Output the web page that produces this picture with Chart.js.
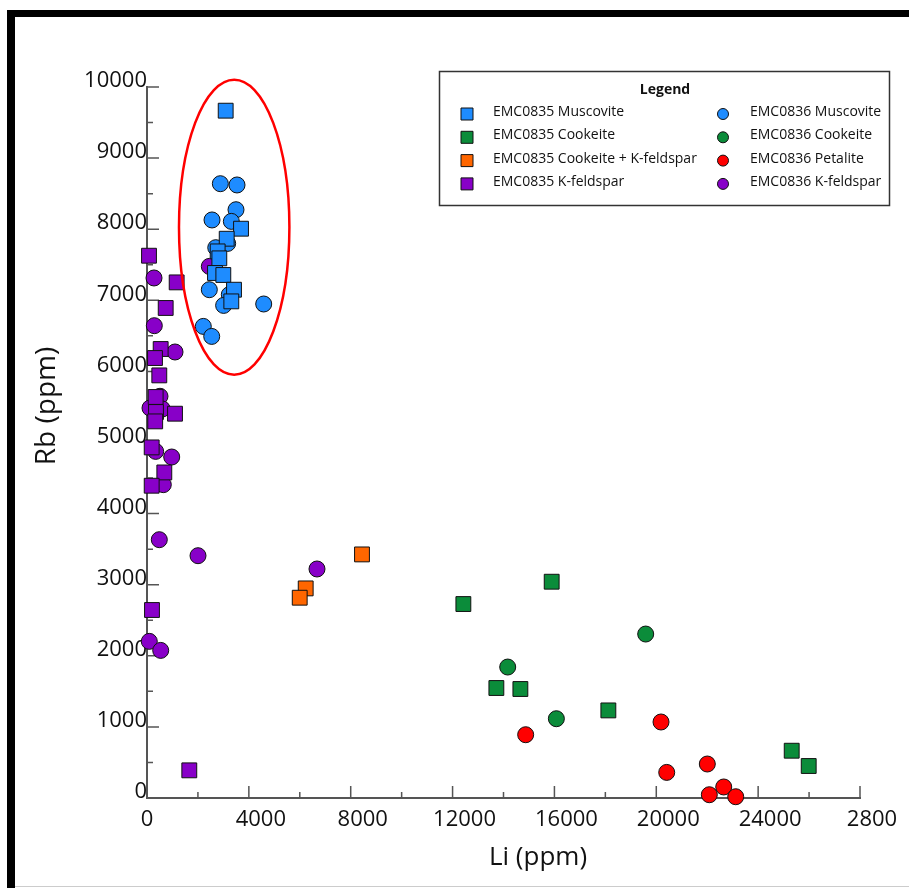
<!DOCTYPE html>
<html lang="en">
<head>
<meta charset="UTF-8">
<title>Rb vs Li</title>
<script src="https://cdn.jsdelivr.net/npm/chart.js"></script>
<style>
  html, body { margin: 0; padding: 0; background: #fff; }
  #wrap { width: 909px; height: 888px; }
</style>
</head>
<body>
<div id="wrap"><canvas id="rbLiChart" width="909" height="888"></canvas></div>
<script>
  // axis ticks
  const xTicks = [0, 4000, 8000, 12000, 16000, 20000, 24000, 28000];
  const xTickLabels = ['0', '4000', '8000', '12000', '16000', '20000', '24000', '2800'];
  const yTicks = [0, 1000, 2000, 3000, 4000, 5000, 6000, 7000, 8000, 9000, 10000];

  // series: [Li, Rb] in ppm
  const seriesNames = [
    'EMC0835 Muscovite', 'EMC0835 Cookeite', 'EMC0835 Cookeite + K-feldspar', 'EMC0835 K-feldspar',
    'EMC0836 Muscovite', 'EMC0836 Cookeite', 'EMC0836 Petalite', 'EMC0836 K-feldspar'
  ];
  const seriesColors = ['#1e8cff', '#0b8c3a', '#ff6600', '#8800c8', '#1e8cff', '#0b8c3a', '#ff0000', '#8800c8'];
  const seriesShapes = ['rect', 'rect', 'rect', 'rect', 'circle', 'circle', 'circle', 'circle'];

  const muscovite0835 = [[3090, 9667], [3692, 8007], [3130, 7866], [2775, 7688], [2840, 7590],
    [2670, 7384], [2997, 7356], [3417, 7149], [3311, 6985]];
  const cookeite0835 = [[12424, 2728], [15892, 3042], [13720, 1547], [14663, 1533], [18118, 1232],
    [25318, 665], [25986, 450]];
  const cookeiteKfs0835 = [[8443, 3426], [6232, 2948], [5997, 2817]];
  const kfeldspar0835 = [[79, 7627], [1165, 7252], [734, 6892], [537, 6315], [314, 6188], [483, 5944],
    [340, 5640], [353, 5429], [1100, 5405], [322, 5297], [184, 4931], [680, 4579], [184, 4392],
    [196, 2644], [1661, 389]];
  const muscovite0836 = [[2880, 8640], [3535, 8622], [3495, 8274], [2553, 8130], [3312, 8110],
    [3168, 7800], [2700, 7740], [2447, 7149], [3232, 7079], [3009, 6928], [4583, 6948],
    [2211, 6633], [2541, 6492]];
  const cookeite0836 = [[19584, 2306], [14165, 1842], [16076, 1115]];
  const petalite0836 = [[14871, 890], [20186, 1069], [20410, 360], [22004, 478], [22083, 46],
    [22648, 155], [23119, 18]];
  const kfeldspar0836 = [[2447, 7477], [275, 7314], [287, 6643], [1100, 6273], [510, 5650], [118, 5485],
    [601, 5471], [340, 4875], [970, 4796], [640, 4407], [483, 3633], [2003, 3408], [6676, 3221],
    [90, 2203], [538, 2076]];

  const seriesData = [muscovite0835, cookeite0835, cookeiteKfs0835, kfeldspar0835,
    muscovite0836, cookeite0836, petalite0836, kfeldspar0836];

  // red ellipse around the muscovite cluster (data units)
  const ellipseCenter = [3424, 8028];
  const ellipseRadii = [2168, 2075];

  const FONT = '"Open Sans", "Noto Sans", sans-serif';
  const TEXT = '#111';
  const AXIS = '#555';

  const datasets = seriesData.map((pts, i) => ({
    label: seriesNames[i],
    data: pts.map(p => ({ x: p[0], y: p[1] })),
    pointStyle: seriesShapes[i],
    pointRadius: seriesShapes[i] === 'rect' ? 10.5 : 8,
    pointHoverRadius: seriesShapes[i] === 'rect' ? 10.5 : 8,
    backgroundColor: seriesColors[i],
    borderColor: '#111',
    borderWidth: 1,
    showLine: false,
    clip: false
  }));

  // white page + black frame like the exported figure
  const framePlugin = {
    id: 'frame',
    beforeDraw(chart) {
      const ctx = chart.ctx;
      ctx.save();
      ctx.fillStyle = '#fff';
      ctx.fillRect(0, 0, chart.width, chart.height);
      ctx.fillStyle = '#000';
      ctx.fillRect(7, 10, chart.width - 7, 7);
      ctx.fillRect(7, 10, 8, chart.height - 10);
      ctx.fillStyle = '#ccc';
      ctx.fillRect(15, chart.height - 2, chart.width - 15, 1);
      ctx.restore();
    }
  };

  // inward major + minor tick marks, and the x tick labels (set right of the tick, except 0)
  const axisTicksPlugin = {
    id: 'axisTicks',
    beforeDatasetsDraw(chart) {
      const { ctx, chartArea: a, scales: { x, y } } = chart;
      ctx.save();
      ctx.strokeStyle = AXIS;
      ctx.lineWidth = 1.5;
      ctx.beginPath();
      xTicks.forEach((v, i) => {
        const px = x.getPixelForValue(v);
        ctx.moveTo(px, a.bottom); ctx.lineTo(px, a.bottom - 12);
        if (i < xTicks.length - 1) {
          const pm = x.getPixelForValue((v + xTicks[i + 1]) / 2);
          ctx.moveTo(pm, a.bottom); ctx.lineTo(pm, a.bottom - 6);
        }
      });
      yTicks.forEach((v, i) => {
        const py = y.getPixelForValue(v);
        ctx.moveTo(a.left, py); ctx.lineTo(a.left + 12, py);
        if (i < yTicks.length - 1) {
          const pm = y.getPixelForValue((v + yTicks[i + 1]) / 2);
          ctx.moveTo(a.left, pm); ctx.lineTo(a.left + 6, pm);
        }
      });
      ctx.stroke();

      ctx.fillStyle = TEXT;
      ctx.font = '22px ' + FONT;
      ctx.textAlign = 'center';
      ctx.textBaseline = 'middle';
      xTicks.forEach((v, i) => {
        const px = x.getPixelForValue(v) + (v === 0 ? 0 : 12);
        ctx.fillText(xTickLabels[i], px, a.bottom + 22);
      });
      ctx.restore();
    }
  };

  const ellipsePlugin = {
    id: 'ellipse',
    afterDatasetsDraw(chart) {
      const { ctx, scales: { x, y } } = chart;
      const cx = x.getPixelForValue(ellipseCenter[0]);
      const cy = y.getPixelForValue(ellipseCenter[1]);
      const rx = x.getPixelForValue(ellipseCenter[0] + ellipseRadii[0]) - cx;
      const ry = cy - y.getPixelForValue(ellipseCenter[1] + ellipseRadii[1]);
      ctx.save();
      ctx.strokeStyle = '#f00';
      ctx.lineWidth = 2.5;
      ctx.beginPath();
      ctx.ellipse(cx, cy, rx, ry, 0, 0, Math.PI * 2);
      ctx.stroke();
      ctx.restore();
    }
  };

  // axis titles (off-centre in the original) and the two-column legend box
  const annotatePlugin = {
    id: 'annotate',
    afterDraw(chart) {
      const ctx = chart.ctx;
      ctx.save();
      ctx.fillStyle = TEXT;
      ctx.textAlign = 'center';
      ctx.textBaseline = 'middle';
      ctx.font = '26px ' + FONT;
      ctx.fillText('Li (ppm)', 538, 858);
      ctx.save();
      ctx.translate(47, 406);
      ctx.rotate(-Math.PI / 2);
      ctx.font = '28px ' + FONT;
      ctx.fillText('Rb (ppm)', 0, 0);
      ctx.restore();

      // legend
      ctx.fillStyle = '#fff';
      ctx.fillRect(439.5, 71.5, 450, 134);
      ctx.strokeStyle = '#333';
      ctx.lineWidth = 1.5;
      ctx.strokeRect(439.5, 71.5, 450, 134);
      ctx.fillStyle = TEXT;
      ctx.font = 'bold 14px ' + FONT;
      ctx.fillText('Legend', 665, 90);
      ctx.font = '14px ' + FONT;
      ctx.textAlign = 'left';
      chart.data.datasets.forEach((ds, i) => {
        const col = i < 4 ? 0 : 1;
        const row = i % 4;
        const mx = col ? 723 : 467;
        const tx = col ? 750 : 493;
        const my = 113 + row * 23.3;
        ctx.fillStyle = ds.backgroundColor;
        ctx.strokeStyle = '#111';
        ctx.lineWidth = 1;
        ctx.beginPath();
        if (ds.pointStyle === 'rect') {
          ctx.rect(mx - 6, my - 5, 12, 12);
        } else {
          ctx.arc(mx, my + 1, 5.5, 0, Math.PI * 2);
        }
        ctx.fill();
        ctx.stroke();
        ctx.fillStyle = TEXT;
        ctx.fillText(ds.label, tx, my - 1);
      });
      ctx.restore();
    }
  };

  new Chart(document.getElementById('rbLiChart'), {
    type: 'scatter',
    data: { datasets: datasets },
    options: {
      responsive: false,
      animation: false,
      events: [],
      layout: { padding: { top: 87, right: 49, left: 0, bottom: 0 } },
      plugins: {
        legend: { display: false },
        tooltip: { enabled: false }
      },
      scales: {
        x: {
          type: 'linear',
          min: 0,
          max: 28000,
          afterBuildTicks: s => { s.ticks = xTicks.map(v => ({ value: v })); },
          afterFit: s => { s.height = 90; },
          ticks: { display: false },
          grid: { display: false, drawTicks: false },
          border: { display: true, color: AXIS, width: 2 }
        },
        y: {
          type: 'linear',
          min: 0,
          max: 10000,
          afterBuildTicks: s => { s.ticks = yTicks.map(v => ({ value: v })); },
          afterFit: s => { s.width = 147; },
          ticks: {
            callback: v => String(v),
            font: { family: FONT, size: 22 },
            color: TEXT,
            padding: 0,
            labelOffset: -6,
            autoSkip: false
          },
          grid: { display: false, drawTicks: false },
          border: { display: true, color: AXIS, width: 2 }
        }
      }
    },
    plugins: [framePlugin, axisTicksPlugin, ellipsePlugin, annotatePlugin]
  });
</script>
</body>
</html>
